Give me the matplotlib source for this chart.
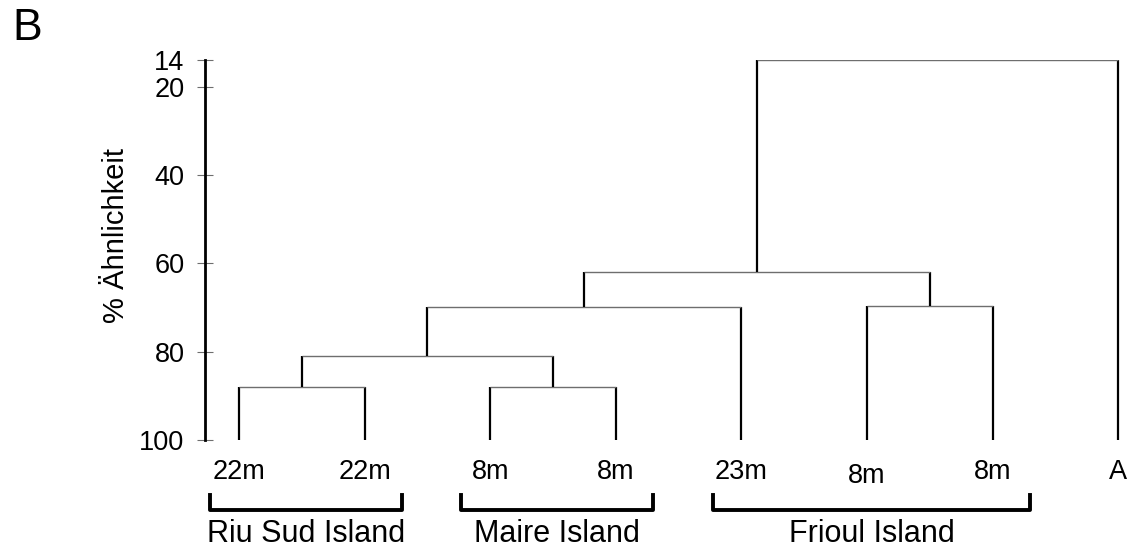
import matplotlib
matplotlib.use("Agg")
import matplotlib.pyplot as plt
from matplotlib.transforms import blended_transform_factory, ScaledTranslation

plt.rcParams['font.family'] = ['Liberation Sans', 'DejaVu Sans']

# ---- data ----
leaf_labels = ["22m", "22m", "8m", "8m", "23m", "8m", "8m", "A"]
# merges: node ids 0-7 are leaves, each merge creates node 8, 9, ...
merge_left = [0, 2, 8, 10, 5, 11, 13]
merge_right = [1, 3, 9, 4, 6, 12, 7]
merge_height = [88, 88, 81, 70, 69.7, 62, 14]   # % similarity
y_ticks = [14, 20, 40, 60, 80, 100]
group_names = ["Riu Sud Island", "Maire Island", "Frioul Island"]
group_first = [1, 3, 5]   # first leaf position (1-based)
group_last = [2, 4, 7]    # last leaf position

W, H = 1137, 549
fig = plt.figure(figsize=(W / 100, H / 100), dpi=100)
ax_left, ax_right, ax_top, ax_bottom = 205, 1130, 60, 440
ax = fig.add_axes([ax_left / W, 1 - ax_bottom / H,
                   (ax_right - ax_left) / W, (ax_bottom - ax_top) / H])

leaf_pos = list(range(1, len(leaf_labels) + 1))
node_x = {i: leaf_pos[i] for i in range(len(leaf_labels))}
node_y = {i: 100.0 for i in range(len(leaf_labels))}

vcol, hcol = "black", "#6e6e6e"
for k, (a, b, h) in enumerate(zip(merge_left, merge_right, merge_height)):
    nid = len(leaf_labels) + k
    xa, xb = node_x[a], node_x[b]
    ax.plot([xa, xa], [node_y[a], h], color=vcol, lw=1.6, solid_capstyle='butt')
    ax.plot([xb, xb], [node_y[b], h], color=vcol, lw=1.6, solid_capstyle='butt')
    ax.plot([xa, xb], [h, h], color=hcol, lw=1.0, solid_capstyle='butt')
    node_x[nid] = (xa + xb) / 2
    node_y[nid] = h

px_per_unit = 125.6
x0 = 1 - (239 - ax_left) / px_per_unit
ax.set_xlim(x0, x0 + (ax_right - ax_left) / px_per_unit)
ax.set_ylim(100, 14)

for s in ["top", "right", "bottom"]:
    ax.spines[s].set_visible(False)
ax.spines["left"].set_linewidth(2.0)
ax.spines["left"].set_color("black")

ax.set_yticks(y_ticks)
ax.set_yticklabels([str(t) for t in y_ticks], fontsize=19.5)
ax.tick_params(axis='y', direction='inout', length=11.5, width=0.8,
               color="#6e6e6e", pad=9)

ax.set_xticks(leaf_pos)
ax.set_xticklabels(leaf_labels, fontsize=19.5)
ax.tick_params(axis='x', length=0, pad=14)
# the middle Frioul label sits slightly lower in the original
lbl = ax.get_xticklabels()[5]
lbl.set_transform(lbl.get_transform() + ScaledTranslation(0, -4 / 100, fig.dpi_scale_trans))

ax.set_ylabel("% Ähnlichkeit", fontsize=21)
ax.yaxis.set_label_coords(-0.081, 0.539)

# group brackets
trans = blended_transform_factory(ax.transData, ax.transAxes)
for name, f, l in zip(group_names, group_first, group_last):
    xl, xr = f - 0.23, l + 0.30
    yb, yt = -0.184, -0.145
    ax.plot([xl, xl, xr, xr], [yt, yb, yb, yt], color="black", lw=2.8,
            transform=trans, clip_on=False, solid_joinstyle='round')
    ax.text((xl + xr) / 2, -0.207, name, transform=trans, ha='center',
            va='top', fontsize=22)

fig.text(12 / W, 1 - 8 / H, "B", fontsize=32, va='top', ha='left')

fig.savefig("out.png", dpi=100)
